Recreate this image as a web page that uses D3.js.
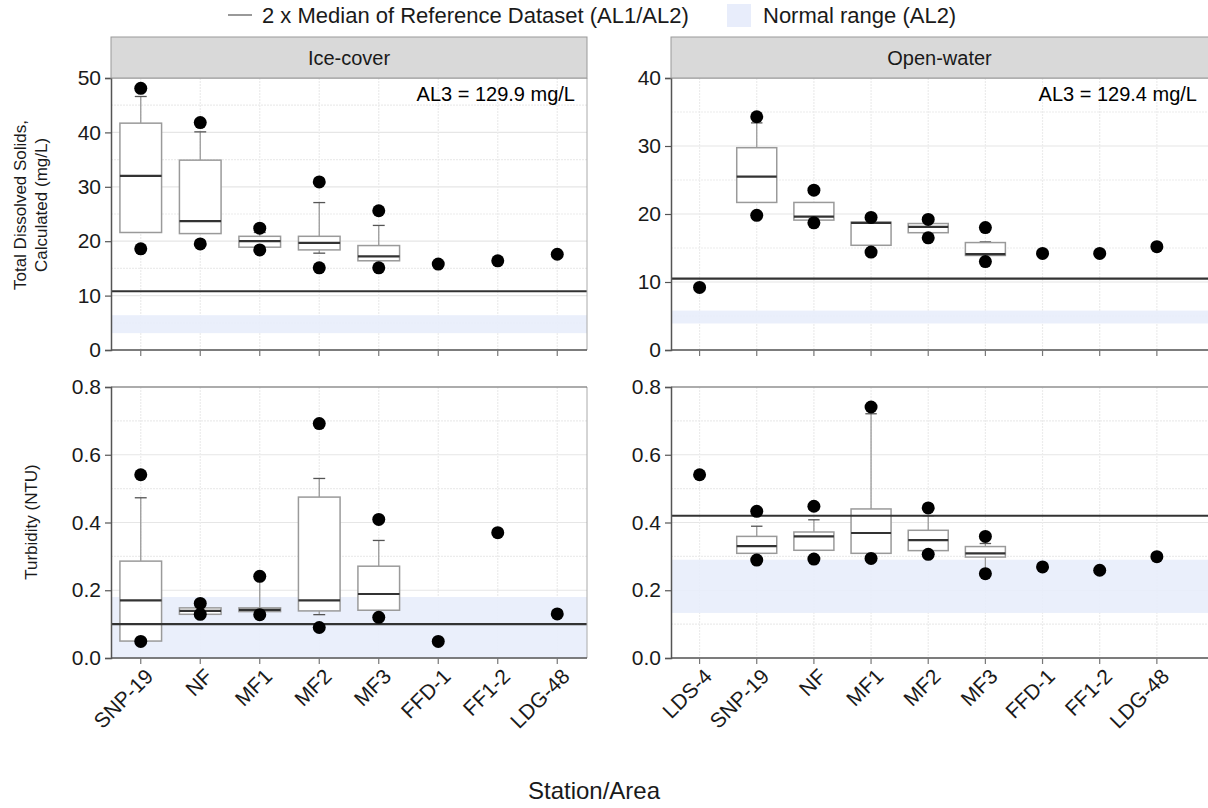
<!DOCTYPE html>
<html><head><meta charset="utf-8">
<script src="https://cdn.jsdelivr.net/npm/d3@7"></script>
<style>body{margin:0;background:#fff}svg{display:block;font-family:"Liberation Sans",Arial,sans-serif}</style>
</head><body><svg id="c" width="1208" height="808"></svg>
<script>
// ---------- data ----------
const stationsIce = ["SNP-19","NF","MF1","MF2","MF3","FFD-1","FF1-2","LDG-48"];
const stationsOpen = ["LDS-4","SNP-19","NF","MF1","MF2","MF3","FFD-1","FF1-2","LDG-48"];
// [station, whiskerLow, q1, median, q3, whiskerHigh]
const tdsIceBoxes = [
  ["SNP-19",21.6,21.6,32.0,41.7,46.6],
  ["NF",21.4,21.4,23.7,34.9,40.1],
  ["MF1",18.9,18.9,20.0,20.9,21.6],
  ["MF2",17.8,18.4,19.7,20.9,27.1],
  ["MF3",16.4,16.4,17.2,19.2,22.9]
];
const tdsIcePoints = [["SNP-19",48.1],["SNP-19",18.6],["NF",41.8],["NF",19.5],["MF1",22.4],["MF1",18.4],
  ["MF2",30.9],["MF2",15.1],["MF3",25.6],["MF3",15.1],["FFD-1",15.8],["FF1-2",16.4],["LDG-48",17.6]];
const tdsOpenBoxes = [
  ["SNP-19",21.7,21.7,25.5,29.75,33.4],
  ["NF",19.1,19.1,19.6,21.7,21.7],
  ["MF1",15.4,15.4,18.7,18.8,18.8],
  ["MF2",17.25,17.25,18.1,18.6,18.6],
  ["MF3",13.9,13.9,14.1,15.8,15.9]
];
const tdsOpenPoints = [["LDS-4",9.2],["SNP-19",34.3],["SNP-19",19.8],["NF",23.5],["NF",18.7],["MF1",19.5],["MF1",14.4],
  ["MF2",19.2],["MF2",16.5],["MF3",18.0],["MF3",13.0],["FFD-1",14.2],["FF1-2",14.2],["LDG-48",15.2]];
const turbIceBoxes = [
  ["SNP-19",0.05,0.05,0.17,0.286,0.473],
  ["NF",0.129,0.129,0.139,0.148,0.148],
  ["MF1",0.137,0.137,0.142,0.148,0.24],
  ["MF2",0.128,0.139,0.17,0.475,0.53],
  ["MF3",0.141,0.141,0.189,0.271,0.347]
];
const turbIcePoints = [["SNP-19",0.541],["SNP-19",0.049],["NF",0.161],["NF",0.129],["MF1",0.241],["MF1",0.128],
  ["MF2",0.692],["MF2",0.09],["MF3",0.409],["MF3",0.12],["FFD-1",0.049],["FF1-2",0.37],["LDG-48",0.13]];
const turbOpenBoxes = [
  ["SNP-19",0.309,0.309,0.33,0.359,0.389],
  ["NF",0.318,0.318,0.359,0.372,0.408],
  ["MF1",0.309,0.309,0.369,0.44,0.721],
  ["MF2",0.317,0.317,0.348,0.377,0.42],
  ["MF3",0.249,0.298,0.309,0.329,0.338]
];
const turbOpenPoints = [["LDS-4",0.541],["SNP-19",0.433],["SNP-19",0.289],["NF",0.448],["NF",0.292],["MF1",0.741],["MF1",0.294],
  ["MF2",0.443],["MF2",0.306],["MF3",0.359],["MF3",0.249],["FFD-1",0.269],["FF1-2",0.259],["LDG-48",0.299]];
const refLines = {tdsIce:10.8, tdsOpen:10.5, turbIce:0.1, turbOpen:0.42};
const normalRanges = {tdsIce:[3.1,6.4], tdsOpen:[3.9,5.8], turbIce:[0,0.18], turbOpen:[0.133,0.29]};
const tdsIceTicks = [0,10,20,30,40,50];
const tdsOpenTicks = [0,10,20,30,40];
const turbTicks = [0,0.2,0.4,0.6,0.8];
const facetLabels = ["Ice-cover","Open-water"];
const al3Labels = ["AL3 = 129.9 mg/L","AL3 = 129.4 mg/L"];
const legendLabels = ["2 x Median of Reference Dataset (AL1/AL2)","Normal range (AL2)"];

// ---------- layout ----------
const svg = d3.select("#c");
const L = {x0:111, x1:587}, R = {x0:671, x1:1212, band:57.16};
const T = {y0:78, y1:350}, B = {y0:387, y1:658};
const panels = [
  {key:"tdsIce", boxes:tdsIceBoxes, pts:tdsIcePoints, cats:stationsIce, xr:[L.x0,L.x1], pr:[L.x0,L.x1], yr:[T.y1,T.y0], dom:[0,50], ticks:tdsIceTicks, fmt:d3.format("d"), minor:5, al3:al3Labels[0], top:true},
  {key:"tdsOpen", boxes:tdsOpenBoxes, pts:tdsOpenPoints, cats:stationsOpen, xr:[R.x0,R.x0+9*R.band], pr:[R.x0,R.x1], yr:[T.y1,T.y0], dom:[0,40], ticks:tdsOpenTicks, fmt:d3.format("d"), minor:5, al3:al3Labels[1], top:true},
  {key:"turbIce", boxes:turbIceBoxes, pts:turbIcePoints, cats:stationsIce, xr:[L.x0,L.x1], pr:[L.x0,L.x1], yr:[B.y1,B.y0], dom:[0,0.8], ticks:turbTicks, fmt:d3.format(".1f"), minor:0.1, bottom:true},
  {key:"turbOpen", boxes:turbOpenBoxes, pts:turbOpenPoints, cats:stationsOpen, xr:[R.x0,R.x0+9*R.band], pr:[R.x0,R.x1], yr:[B.y1,B.y0], dom:[0,0.8], ticks:turbTicks, fmt:d3.format(".1f"), minor:0.1, bottom:true}
];

panels.forEach((p,i)=>{
  const x = d3.scaleBand().domain(p.cats).range(p.xr).padding(0);
  const y = d3.scaleLinear().domain(p.dom).range(p.yr);
  const bw = x.bandwidth();
  const g = svg.append("g");
  const [px0,px1] = p.pr, [py1,py0] = p.yr;
  g.append("rect").attr("x",px0).attr("y",py0).attr("width",px1-px0).attr("height",py1-py0).attr("fill","#fff");
  // minor grid
  const minors = d3.range(p.dom[0]+p.minor, p.dom[1], p.minor*2);
  g.selectAll(".mn").data(minors).join("line").attr("x1",px0).attr("x2",px1)
    .attr("y1",d=>y(d)).attr("y2",d=>y(d)).attr("stroke","#ececec").attr("stroke-width",1.2).attr("stroke-dasharray","2,1");
  // major grid
  g.selectAll(".mj").data(p.ticks).join("line").attr("x1",px0).attr("x2",px1)
    .attr("y1",d=>y(d)).attr("y2",d=>y(d)).attr("stroke","#e6e6e6").attr("stroke-width",1.2);
  // vertical grid
  g.selectAll(".vg").data(p.cats).join("line").attr("x1",d=>x(d)+bw/2).attr("x2",d=>x(d)+bw/2)
    .attr("y1",py0).attr("y2",py1).attr("stroke","#ececec").attr("stroke-width",1.2).attr("stroke-dasharray","2,1");
  // normal range
  const nr = normalRanges[p.key];
  g.append("rect").attr("x",px0).attr("width",px1-px0).attr("y",y(nr[1])).attr("height",y(nr[0])-y(nr[1]))
    .attr("fill","#e8edfb").attr("opacity",0.9);
  // boxes
  const bx = g.selectAll(".bx").data(p.boxes).join("g");
  const cx = d=>x(d[0])+bw/2, boxW = bw*0.7, capW = bw*0.2;
  bx.append("line").attr("x1",cx).attr("x2",cx).attr("y1",d=>y(d[5])).attr("y2",d=>y(d[4])).attr("stroke","#9a9a9a").attr("stroke-width",1.3);
  bx.append("line").attr("x1",cx).attr("x2",cx).attr("y1",d=>y(d[1])).attr("y2",d=>y(d[2])).attr("stroke","#9a9a9a").attr("stroke-width",1.3);
  bx.filter(d=>d[5]>d[4]).append("line").attr("x1",d=>cx(d)-capW/2).attr("x2",d=>cx(d)+capW/2).attr("y1",d=>y(d[5])).attr("y2",d=>y(d[5])).attr("stroke","#555").attr("stroke-width",1.3);
  bx.filter(d=>d[1]<d[2]).append("line").attr("x1",d=>cx(d)-capW/2).attr("x2",d=>cx(d)+capW/2).attr("y1",d=>y(d[1])).attr("y2",d=>y(d[1])).attr("stroke","#555").attr("stroke-width",1.3);
  bx.append("rect").attr("x",d=>cx(d)-boxW/2).attr("width",boxW).attr("y",d=>y(d[4])).attr("height",d=>y(d[2])-y(d[4]))
    .attr("fill","#fff").attr("stroke","#9a9a9a").attr("stroke-width",1.5);
  bx.append("line").attr("x1",d=>cx(d)-boxW/2).attr("x2",d=>cx(d)+boxW/2).attr("y1",d=>y(d[3])).attr("y2",d=>y(d[3])).attr("stroke","#333").attr("stroke-width",2.2);
  // reference line
  g.append("line").attr("x1",px0).attr("x2",px1).attr("y1",y(refLines[p.key])).attr("y2",y(refLines[p.key])).attr("stroke","#333").attr("stroke-width",2.2);
  // points
  g.selectAll(".pt").data(p.pts).join("circle").attr("cx",d=>x(d[0])+bw/2).attr("cy",d=>y(d[1])).attr("r",6.5).attr("fill","#000");
  // border
  g.append("line").attr("x1",px1).attr("x2",px1).attr("y1",py0).attr("y2",py1).attr("stroke","#aaa").attr("stroke-width",1);
  g.append("line").attr("x1",px0).attr("x2",px1).attr("y1",py0).attr("y2",py0).attr("stroke",p.top?"#999":"#666").attr("stroke-width",1.2);
  // y axis
  const ya = g.append("g").attr("transform",`translate(${px0},0)`).call(d3.axisLeft(y).tickValues(p.ticks).tickFormat(p.fmt).tickSize(6).tickPadding(4));
  ya.select(".domain").attr("stroke","#555").attr("stroke-width",1.5);
  ya.selectAll(".tick line").attr("stroke","#555").attr("stroke-width",1.2);
  ya.selectAll("text").attr("font-size",21).attr("fill","#1a1a1a").attr("font-family","Liberation Sans, Arial, sans-serif");
  // x axis
  const xa = g.append("g").attr("transform",`translate(0,${py1})`).call(d3.axisBottom(x).tickSize(6).tickFormat(p.bottom?null:""));
  xa.select(".domain").attr("stroke","#555").attr("stroke-width",1.5).attr("d",`M${px0},0H${px1}`);
  xa.selectAll(".tick line").attr("stroke","#777").attr("stroke-width",1.2);
  if(p.bottom){
    xa.selectAll("text").attr("font-size",21).attr("fill","#1a1a1a").attr("font-family","Liberation Sans, Arial, sans-serif")
      .attr("text-anchor","end").attr("y",0).attr("dy","0.72em")
      .attr("transform","translate(3,9) rotate(-45)");
  }
  // strip
  if(p.top){
    g.append("rect").attr("x",px0).attr("y",37).attr("width",px1-px0).attr("height",py0-37).attr("fill","#d9d9d9").attr("stroke","#999").attr("stroke-width",1);
    const sx = i===0 ? (L.x0+L.x1)/2 : (R.x0+1208)/2;
    g.append("text").attr("x",sx).attr("y",65).attr("text-anchor","middle").attr("font-size",20).attr("fill","#1a1a1a").text(facetLabels[i]);
    const ax = i===0 ? L.x1-12 : 1197;
    g.append("text").attr("x",ax).attr("y",101).attr("text-anchor","end").attr("font-size",20).attr("fill","#000").text(p.al3);
  }
});

// axis titles
svg.append("text").attr("transform","translate(26,205) rotate(-90)").attr("text-anchor","middle").attr("font-size",17).attr("fill","#1a1a1a").text("Total Dissolved Solids,");
svg.append("text").attr("transform","translate(47,205) rotate(-90)").attr("text-anchor","middle").attr("font-size",17).attr("fill","#1a1a1a").text("Calculated (mg/L)");
svg.append("text").attr("transform","translate(37,522) rotate(-90)").attr("text-anchor","middle").attr("font-size",17).attr("fill","#1a1a1a").text("Turbidity (NTU)");
svg.append("text").attr("x",594).attr("y",799).attr("text-anchor","middle").attr("font-size",24).attr("fill","#1a1a1a").text("Station/Area");

// legend
svg.append("line").attr("x1",228).attr("x2",252).attr("y1",15).attr("y2",15).attr("stroke","#555").attr("stroke-width",1.2);
svg.append("text").attr("x",262).attr("y",23).attr("font-size",22).attr("fill","#1a1a1a").text(legendLabels[0]);
svg.append("rect").attr("x",727).attr("y",4).attr("width",24).attr("height",23).attr("fill","#e8edfb");
svg.append("text").attr("x",763).attr("y",23).attr("font-size",22).attr("fill","#1a1a1a").text(legendLabels[1]);
</script></body></html>
